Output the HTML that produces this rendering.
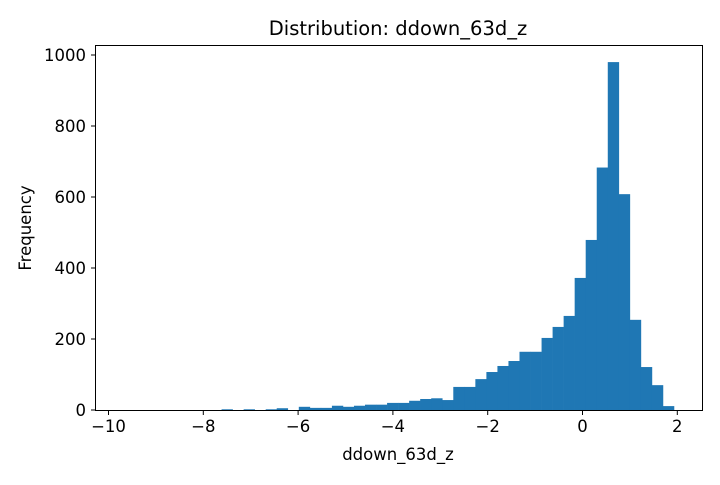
<!DOCTYPE html>
<html><head><meta charset="utf-8"><style>
body{margin:0;background:#fff;font-family:"Liberation Sans","DejaVu Sans",sans-serif;}
svg text{font-family:"DejaVu Sans","Liberation Sans",sans-serif;}
</style></head><body>
<svg id="chart" width="720" height="480">
<text x="398" y="35" font-size="19.5" text-anchor="middle">Distribution: ddown_63d_z</text>
<g id="bars"></g>
<rect x="95.5" y="45.5" width="607" height="365" fill="none" stroke="#000" stroke-width="1"/>
<g id="axes"></g>
<text x="398" y="460" font-size="16.5" text-anchor="middle">ddown_63d_z</text>
<text transform="translate(31,228) rotate(-90)" font-size="16.5" text-anchor="middle">Frequency</text>
</svg>
<script>
const binStart = -9.71;
const binWidth = 0.2328;
const counts = [0,0,0,0,0,0,0,0,0,2,0,2,0,2,5,0,9,6,6,12,9,12,15,15,20,20,26,31,33,28,65,65,87,107,124,138,164,164,203,234,265,372,479,683,980,608,254,121,70,11];
const xTicks = [-10,-8,-6,-4,-2,0,2];
const xTickLabels = ["\u221210","\u22128","\u22126","\u22124","\u22122","0","2"];
const yTicks = [0,200,400,600,800,1000];
const yTickLabels = ["0","200","400","600","800","1000"];
const NS="http://www.w3.org/2000/svg";
function sx(v){return 108.5+(v+10)*47.4;}
function sy(v){return 410-v*0.355;}
const bars=document.getElementById('bars');
counts.forEach((c,i)=>{
  const x0=sx(binStart+i*binWidth), x1=sx(binStart+(i+1)*binWidth);
  const r=document.createElementNS(NS,'rect');
  r.setAttribute('x',x0);r.setAttribute('width',x1-x0+0.3);
  r.setAttribute('y',sy(c));r.setAttribute('height',410-sy(c));
  r.setAttribute('fill','#1f77b4');
  
  
  bars.appendChild(r);
});
const axes=document.getElementById('axes');
xTicks.forEach((t,i)=>{
  const x=sx(t);
  const l=document.createElementNS(NS,'line');
  l.setAttribute('x1',x);l.setAttribute('x2',x);l.setAttribute('y1',410.5);l.setAttribute('y2',415);l.setAttribute('stroke','#000');
  
  
  axes.appendChild(l);
  const tx=document.createElementNS(NS,'text');
  tx.setAttribute('x',x);tx.setAttribute('y',432);tx.setAttribute('font-size','16.5');tx.setAttribute('text-anchor','middle');
  tx.textContent=xTickLabels[i];
  
  
  axes.appendChild(tx);
});
yTicks.forEach((t,i)=>{
  const y=sy(t);
  const l=document.createElementNS(NS,'line');
  l.setAttribute('x1',91);l.setAttribute('x2',95.5);l.setAttribute('y1',y);l.setAttribute('y2',y);l.setAttribute('stroke','#000');
  
  
  axes.appendChild(l);
  const tx=document.createElementNS(NS,'text');
  tx.setAttribute('x',86);tx.setAttribute('y',y+6);tx.setAttribute('font-size','16.5');tx.setAttribute('text-anchor','end');
  tx.textContent=yTickLabels[i];
  
  
  axes.appendChild(tx);
});
</script>
</body></html>
